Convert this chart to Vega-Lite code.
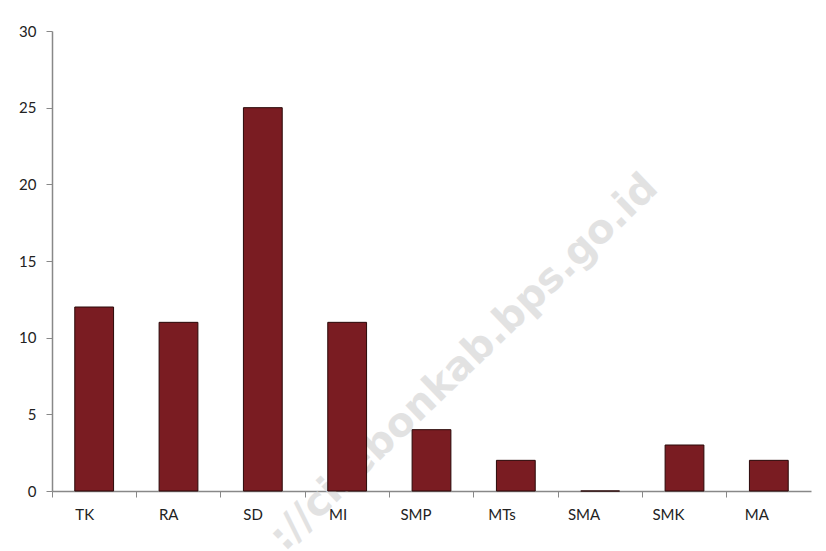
{
  "$schema": "https://vega.github.io/schema/vega-lite/v6.json",
  "width": 759,
  "height": 460,
  "autosize": {"type": "none"},
  "padding": {"left": 52, "top": 31, "right": 15, "bottom": 60},
  "background": "white",
  "config": {
    "view": {"stroke": null},
    "font": "Lato"
  },
  "layer": [
    {
      "data": {"values": [{"wm": "://cirebonkab.bps.go.id"}]},
      "mark": {"type": "text", "angle": -44, "fontSize": 40, "fontWeight": "bold", "color": "#dcdcdc", "opacity": 0.8, "align": "center", "baseline": "middle", "font": "DejaVu Sans", "dx": 18, "dy": 28},
      "encoding": {
        "text": {"field": "wm"},
        "x": {"datum": "SMP"},
        "y": {"datum": 8.87}
      }
    },
    {
      "data": {"values": [
        {"jenjang": "TK", "jumlah": 12},
        {"jenjang": "RA", "jumlah": 11},
        {"jenjang": "SD", "jumlah": 25},
        {"jenjang": "MI", "jumlah": 11},
        {"jenjang": "SMP", "jumlah": 4},
        {"jenjang": "MTs", "jumlah": 2},
        {"jenjang": "SMA", "jumlah": 0},
        {"jenjang": "SMK", "jumlah": 3},
        {"jenjang": "MA", "jumlah": 2}
      ]},
      "mark": {"type": "bar", "color": "#7a1c22", "stroke": "#2a0808", "strokeWidth": 1, "width": {"band": 0.46}},
      "encoding": {
        "x": {
          "field": "jenjang", "type": "nominal", "sort": null, "title": null,
          "scale": {"domain": ["TK", "RA", "SD", "MI", "SMP", "MTs", "SMA", "SMK", "MA"], "paddingInner": 0, "paddingOuter": 0},
          "axis": {
            "labelAngle": 0, "labelFontSize": 15, "labelColor": "#222", "labelPadding": 17,
            "bandPosition": 0, "tickSize": 6, "tickColor": "#888", "domainColor": "#888",
            "domainWidth": 1.5, "grid": false, "labelFont": "Lato"
          }
        },
        "y": {
          "field": "jumlah", "type": "quantitative", "title": null,
          "scale": {"domain": [0, 30], "nice": false},
          "axis": {
            "values": [0, 5, 10, 15, 20, 25, 30], "labelFontSize": 15, "labelColor": "#222",
            "labelPadding": 10, "tickSize": 6, "tickColor": "#888", "domainColor": "#888",
            "domainWidth": 1.5, "gridColor": "#8a8a8a", "gridWidth": 1.5, "labelFont": "Lato"
          }
        }
      }
    }
  ]
}
